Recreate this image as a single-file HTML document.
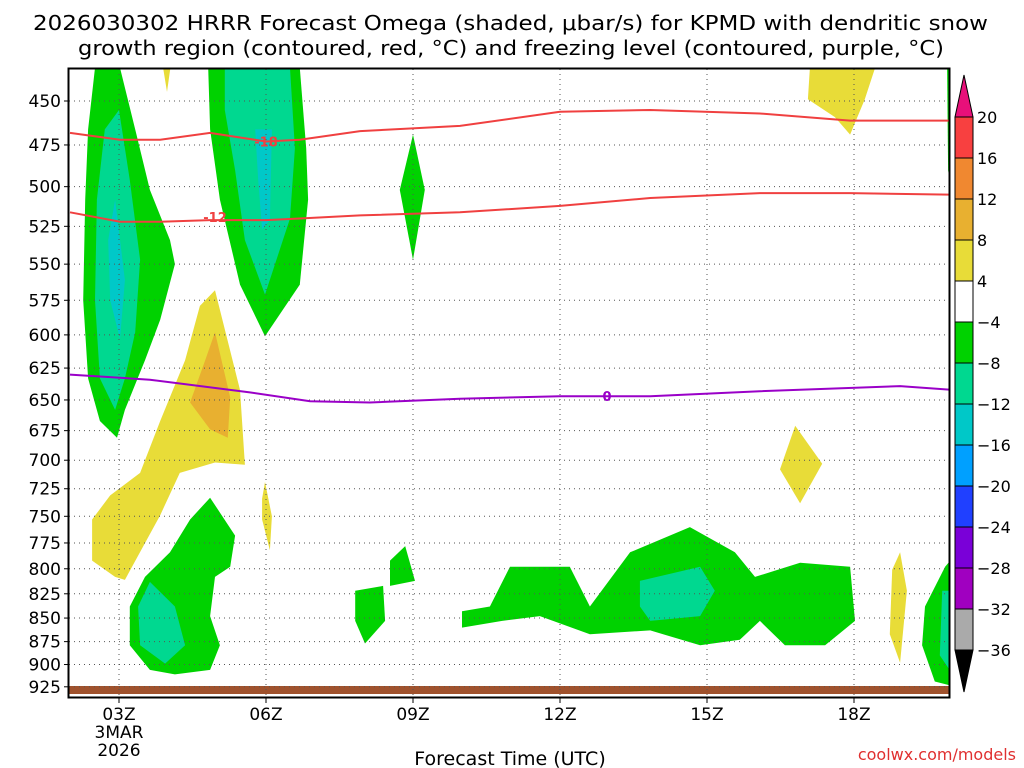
<!DOCTYPE html>
<html><head><meta charset="utf-8"><style>
html,body{margin:0;padding:0;background:#fff;}
svg{display:block;font-family:"DejaVu Sans","Liberation Sans",sans-serif;}
</style></head><body>
<svg id="chart" width="1024" height="768" viewBox="0 0 1024 768">
<text x="33" y="30" font-size="20" textLength="955" lengthAdjust="spacingAndGlyphs" fill="#000">2026030302 HRRR Forecast Omega (shaded, μbar/s) for KPMD with dendritic snow</text>
<text x="78" y="55" font-size="20" textLength="866" lengthAdjust="spacingAndGlyphs" fill="#000">growth region (contoured, red, °C) and freezing level (contoured, purple, °C)</text>
<g id="plot"></g>
<rect x="68.5" y="68.5" width="881" height="629" fill="none" stroke="#000" stroke-width="2"/>
<g id="axes"></g>
<g id="cbar"></g>
<text x="510" y="765" font-size="19" text-anchor="middle">Forecast Time (UTC)</text>
<text x="1016" y="760" font-size="16" text-anchor="end" fill="#e03030">coolwx.com/models</text>
</svg>
<script>
const NS='http://www.w3.org/2000/svg';
// ---- data ----
const pressureTicks=[450,475,500,525,550,575,600,625,650,675,700,725,750,775,800,825,850,875,900,925];
const hourTicks=[3,6,9,12,15,18];
const hourTickLabels=['03Z','06Z','09Z','12Z','15Z','18Z'];
const cbarLevels=[20,16,12,8,4,-4,-8,-12,-16,-20,-24,-28,-32,-36];
const cbarColors=['#f84040','#f08830','#e8b030','#e8dc38','#ffffff','#00d200','#00d890','#00c8c8','#00a0ff','#2040ff','#7a00d8','#a000c0','#aaaaaa'];
const shadeColor={y:'#e8dc38',o:'#e8b030',g:'#00d200',t:'#00d890',c:'#00c8c8'};
// polygons: [class, [[hour,pressure],...]]
const regions=[
 ['g',[[2.51,432],[3.02,432],[3.33,466],[3.63,502],[4.04,534],[4.14,550],[3.84,589],[3.53,619],[3.12,658],[2.96,681],[2.61,667],[2.37,633],[2.27,575],[2.31,508],[2.37,466]]],
 ['t',[[3.0,455],[3.22,496],[3.43,547],[3.33,598],[3.12,633],[2.92,658],[2.61,633],[2.51,575],[2.55,508],[2.71,466]]],
 ['c',[[2.92,508],[3.12,561],[3.02,603],[2.82,575],[2.78,534]]],
 ['g',[[4.82,432],[6.69,432],[6.82,477],[6.86,508],[6.69,564],[5.98,601],[5.47,564],[5.06,508],[4.86,466]]],
 ['t',[[5.16,432],[6.49,432],[6.59,477],[6.49,520],[5.98,571],[5.57,534],[5.37,490],[5.16,455]]],
 ['c',[[5.78,466],[6.12,466],[6.08,521],[5.92,527],[5.84,496]]],
 ['g',[[9.0,469],[9.24,502],[9.0,547],[8.73,502]]],
 ['y',[[4.96,568],[5.47,642],[5.57,704],[4.96,702],[4.24,711],[3.84,749],[3.12,811],[2.92,808],[2.45,792],[2.45,753],[2.82,731],[3.43,711],[3.84,667],[4.35,619],[4.65,579]]],
 ['o',[[4.96,598],[5.27,648],[5.22,681],[4.86,674],[4.45,652],[4.76,619]]],
 ['y',[[5.98,719],[6.12,750],[6.08,782],[5.92,753],[5.92,734]]],
 ['y',[[3.9,432],[4.05,432],[3.98,445]]],
 ['y',[[17.1,432],[18.43,432],[18.22,449],[17.92,469],[17.61,459],[17.06,449]]],
 ['y',[[16.8,671],[17.35,703],[16.9,738],[16.49,708]]],
 ['y',[[18.94,784],[19.08,822],[18.94,898],[18.73,867],[18.78,801]]],
 ['g',[[4.86,733],[5.37,768],[5.27,798],[4.96,808],[4.86,848],[5.06,879],[4.86,906],[4.14,911],[3.63,906],[3.22,879],[3.22,838],[3.53,808],[4.04,784],[4.45,753]]],
 ['t',[[3.63,813],[4.14,838],[4.35,879],[3.94,899],[3.43,879],[3.39,838]]],
 ['g',[[7.82,822],[8.39,817],[8.43,853],[8.02,877],[7.82,853]]],
 ['g',[[8.53,792],[8.84,778],[9.04,812],[8.53,817]]],
 ['g',[[10.0,843],[10.57,838],[10.98,798],[12.2,798],[12.61,838],[13.43,784],[14.65,760],[15.57,784],[15.98,808],[16.9,794],[17.92,798],[18.02,853],[17.41,879],[16.59,879],[16.08,853],[15.67,873],[14.86,879],[13.84,863],[12.61,867],[11.59,848],[10.82,853],[10.0,860]]],
 ['t',[[13.63,812],[14.86,798],[15.16,822],[14.86,848],[13.84,853],[13.63,838]]],
 ['g',[[19.86,798],[20,790],[20,924],[19.65,919],[19.39,879],[19.45,838]]],
 ['t',[[19.8,822],[20,822],[20,910],[19.75,890]]],
 ['g',[[19.9,432],[20,432],[20,505],[19.92,490]]]
];
const redHours=[2,3.02,3.84,4.86,6,6.69,7.92,9.96,12,13.84,16.08,17.92,20];
const red18=[468,472,472,468,473,472,467,464,456,455,457,461,461];
const red12=[516,522,522,521,521,520,518,516,512,507,504,504,505];
const purHours=[2,3.63,5.67,6.9,8.12,9.96,12,13.84,16.08,18.94,20];
const purple0=[630,634,644,651,652,649,647,647,643,639,642];
// ---- scales ----
const X0=70,PX_H=49,Y0=101,PY=813;
const xs=h=>X0+(h-2)*PX_H;
const ys=p=>Y0+PY*Math.log(p/450);
function mk(tag,attrs,parent){const e=document.createElementNS(NS,tag);for(const k in attrs)e.setAttribute(k,attrs[k]);parent.appendChild(e);return e;}
const plot=document.getElementById('plot');
const clip=mk('clipPath',{id:'pc'},mk('defs',{},plot));
mk('rect',{x:69,y:69,width:880,height:628},clip);
const g=mk('g',{'clip-path':'url(#pc)'},plot);
regions.forEach((r,i)=>{
 const pts=r[1].map(q=>xs(q[0]).toFixed(1)+','+ys(q[1]).toFixed(1)).join(' ');
 const e=mk('polygon',{points:pts,fill:shadeColor[r[0]]},g);
 
 
});
// ground
const gr=mk('rect',{x:69,y:686,width:880,height:8,fill:'#a0522d'},g);


// grid
pressureTicks.forEach(p=>{const l=mk('line',{x1:69,x2:949,y1:ys(p),y2:ys(p),stroke:'#555','stroke-width':1,'stroke-dasharray':'1 4'},g);
 
 });
hourTicks.forEach(h=>{const l=mk('line',{x1:xs(h),x2:xs(h),y1:69,y2:697,stroke:'#555','stroke-width':1,'stroke-dasharray':'1 4'},g);
 
 });
function line(hs,ps,col,name){const d=hs.map((h,i)=>(i?'L':'M')+xs(h).toFixed(1)+','+ys(ps[i]).toFixed(1)).join('');
 const e=mk('path',{d:d,fill:'none',stroke:col,'stroke-width':2},g);
 
 }
line(redHours,red18,'#f04040','contour-minus18');
line(redHours,red12,'#f04040','contour-minus12');
line(purHours,purple0,'#9a00c8','freezing-level-0');
function clabel(t,h,p,col,name){const x=xs(h),y=ys(p);
 const e=mk('text',{x:x,y:y+5,'font-size':13,'font-weight':'bold','text-anchor':'middle',fill:col},g);e.textContent=t;
 
 }
clabel('-18',6,473,'#f04040','label-minus18');
clabel('-12',4.96,519,'#f04040','label-minus12');
clabel('0',12.96,647,'#9a00c8','label-zero');
// axes
const ax=document.getElementById('axes');
pressureTicks.forEach(p=>{const t=mk('text',{x:61,y:ys(p)+6,'font-size':17,'text-anchor':'end'},ax);t.textContent=p;
 
 
 mk('line',{x1:64,x2:69,y1:ys(p),y2:ys(p),stroke:'#000'},ax);});
hourTicks.forEach((h,i)=>{const t=mk('text',{x:xs(h),y:720,'font-size':17,'text-anchor':'middle'},ax);t.textContent=hourTickLabels[i];
 
 
 mk('line',{x1:xs(h),x2:xs(h),y1:697,y2:703,stroke:'#000'},ax);});
[['3MAR',738],['2026',756]].forEach(a=>{const t=mk('text',{x:xs(3),y:a[1],'font-size':17,'text-anchor':'middle'},ax);t.textContent=a[0];
 
 });
// colorbar
const cb=document.getElementById('cbar');
const CT=117,CH=41,CX=955,CW=18;
mk('polygon',{points:`${CX},${CT} ${CX+CW},${CT} ${CX+CW/2},${CT-42}`,fill:'#e8107a',stroke:'#000'},cb);
cbarColors.forEach((c,i)=>{const r=mk('rect',{x:CX,y:CT+i*CH,width:CW,height:CH,fill:c,stroke:'#000','stroke-width':1},cb);
 
 });
const CB=CT+cbarColors.length*CH;
mk('polygon',{points:`${CX},${CB} ${CX+CW},${CB} ${CX+CW/2},${CB+42}`,fill:'#000',stroke:'#000'},cb);
cbarLevels.forEach((v,i)=>{const t=mk('text',{x:977,y:CT+i*CH+6,'font-size':16},cb);t.textContent=v<0?'\u2212'+(-v):v;
 
 });
</script>
</body></html>
